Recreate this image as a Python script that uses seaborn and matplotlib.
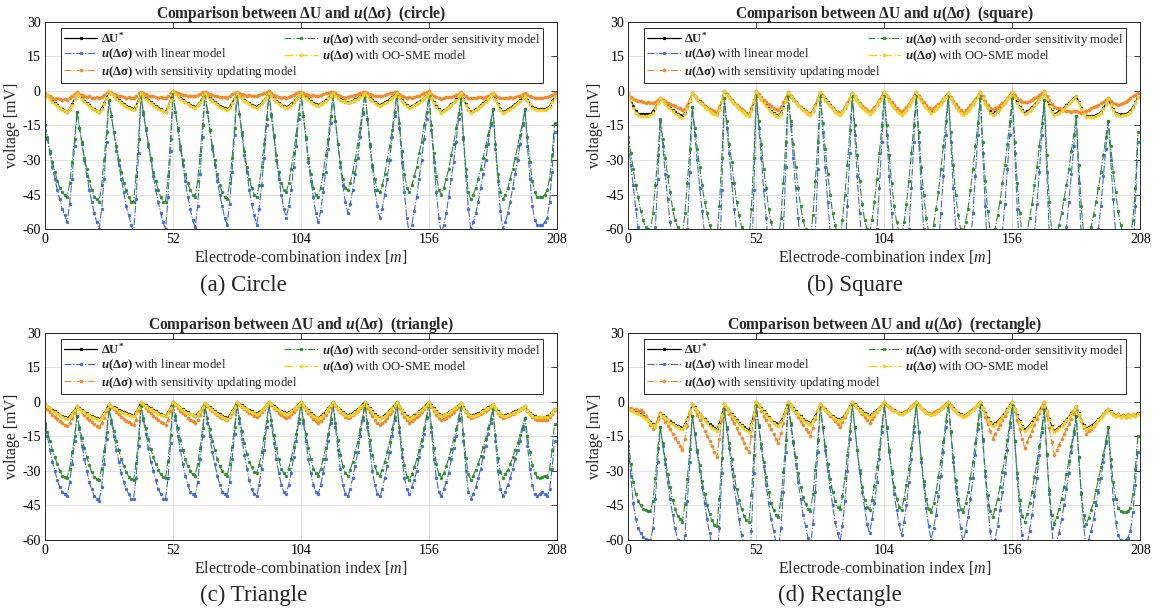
import numpy as np
import matplotlib
matplotlib.use("Agg")
import matplotlib.pyplot as plt
import seaborn as sns

# ---------------- data (mV), 208 electrode combinations per shape ----------------
X_TICKS = [0, 52, 104, 156, 208]
Y_TICKS = [-60, -45, -30, -15, 0, 15, 30]
SHAPES = ["circle", "square", "triangle", "rectangle"]
CAPTIONS = ["(a) Circle", "(b) Square", "(c) Triangle", "(d) Rectangle"]

# ---- (a) circle ----
A_DU = [
    -1, -2.1, -3.2, -4.4, -5.3, -6.3, -7.2, -7.9, -8.5, -9, -7.7, -5.8, -3.6,
    -1, -2.1, -3.2, -4.4, -5.3, -6.3, -7.2, -7.9, -8.5, -9, -7.6, -5.4, -2.9,
    0, -1, -2, -3, -3.9, -4.8, -5.6, -6.4, -7, -7.5, -8, -6.4, -3.9,
    -1, -2, -3, -4, -4.9, -5.8, -6.6, -7.4, -8, -8.5, -9, -6.9, -3.8,
    0, -1, -2, -2.9, -3.8, -4.6, -5.4, -6, -6.6, -7, -6, -4.6, -2.9,
    -1, -2, -3, -3.9, -4.8, -5.6, -6.4, -7, -7.6, -8, -6.9, -5.2, -3.2,
    -1, -2, -2.9, -3.8, -4.6, -5.4, -6, -6.6, -7, -6.3, -5.2, -3.9, -2.5,
    -1, -2.1, -3.2, -4.2, -5.1, -5.9, -6.5, -7, -6.4, -5.6, -4.6, -3.5, -2.3,
    -1, -1.9, -2.8, -3.7, -4.4, -5.1, -5.6, -6, -5.5, -4.9, -4, -3.1, -2.1,
    -1, -1.8, -2.7, -3.4, -4.1, -4.6, -5, -4.7, -4.2, -3.7, -3.1, -2.4, -1.7,
    -1, -2, -3.1, -4, -4.9, -5.5, -6, -5.6, -5, -4.4, -3.7, -2.8, -1.9,
    -1, -2.5, -3.9, -5.2, -6.3, -7, -6.6, -6, -5.4, -4.6, -3.8, -2.9, -2,
    -1, -3, -4.9, -6.6, -8, -9, -8.4, -7.7, -6.8, -5.8, -4.8, -3.6, -2.3,
    -1, -3.6, -5.8, -7.7, -9, -8.5, -7.9, -7.2, -6.3, -5.3, -4.4, -3.2, -2.1,
    -1, -3.6, -5.8, -7.7, -9, -8.6, -8, -7.4, -6.6, -5.8, -4.9, -4, -3,
    -2, -4, -5.5, -6.8, -7.6, -8, -8, -8, -7.8, -7.5, -6.5, -4.5, -2.5,
]
A_LIN = [
    -15, -21, -27, -33, -38, -43, -47, -51, -54, -57, -49, -38, -24,
    -9, -16, -23, -30, -37, -43, -48, -53, -57, -60, -51, -38, -22,
    -4, -11, -18, -26, -32, -38, -44, -50, -54, -58, -61, -47, -27,
    -2, -10, -17, -24, -30, -37, -43, -48, -53, -57, -60, -46, -26,
    -1, -9, -17, -25, -32, -39, -46, -51, -56, -59, -50, -36, -20,
    -1, -9, -17, -25, -32, -39, -45, -50, -55, -58, -49, -35, -19,
    -1, -10, -19, -28, -35, -43, -49, -54, -58, -51, -41, -29, -15,
    -1, -11, -20, -30, -38, -45, -51, -55, -50, -43, -33, -24, -12,
    -1, -11, -21, -31, -39, -46, -53, -57, -52, -44, -35, -25, -14,
    -2, -13, -23, -33, -41, -48, -53, -49, -43, -36, -29, -20, -10,
    -1, -12, -24, -33, -43, -50, -55, -51, -45, -38, -30, -20, -11,
    -1, -16, -31, -44, -55, -62, -58, -52, -46, -38, -30, -21, -12,
    -2, -17, -31, -44, -55, -62, -58, -53, -46, -38, -31, -22, -12,
    -3, -21, -37, -51, -60, -57, -53, -48, -42, -36, -30, -23, -15,
    -8, -25, -39, -52, -60, -57, -53, -48, -42, -36, -30, -23, -15,
    -8, -24, -38, -50, -56, -58, -58, -58, -57, -55, -48, -35, -18,
]
A_SEN = [
    -1.0, -1.8, -2.4, -3.0, -3.4, -3.1, -3.7, -4.0, -3.6, -3.9, -3.0, -2.1, -1.2,
    -0.5, -1.2, -1.9, -2.3, -2.6, -2.4, -2.9, -3.1, -2.8, -3.2, -2.5, -1.7, -0.8,
    0.0, -0.8, -1.3, -1.9, -2.2, -2.0, -2.6, -2.9, -2.7, -3.1, -3.0, -2.2, -1.1,
    -0.4, -1.0, -1.5, -2.1, -2.4, -2.2, -2.8, -3.0, -2.7, -3.1, -2.9, -2.0, -0.9,
    0.0, -0.6, -1.0, -1.3, -1.8, -1.6, -2.1, -2.3, -2.0, -2.2, -1.7, -1.2, -0.6,
    -0.3, -0.8, -1.3, -1.7, -2.2, -2.0, -2.6, -2.8, -2.5, -2.9, -2.2, -1.5, -0.8,
    -0.5, -1.0, -1.5, -1.8, -2.0, -1.7, -2.2, -2.4, -2.1, -1.6, -1.2, -0.9, -0.5,
    0.0, -0.9, -1.6, -2.1, -2.5, -2.9, -2.6, -3.0, -2.5, -2.0, -1.6, -1.0, -0.5,
    -0.4, -0.9, -1.4, -1.8, -2.2, -1.9, -2.3, -2.1, -1.8, -1.5, -1.1, -0.8, -0.4,
    -0.3, -1.0, -1.8, -2.4, -2.8, -3.0, -2.7, -2.4, -2.0, -1.7, -1.3, -0.9, -0.5,
    -0.4, -1.0, -1.5, -1.9, -2.2, -2.0, -2.3, -2.0, -1.7, -1.4, -1.1, -0.8, -0.5,
    -0.3, -1.2, -2.0, -2.6, -3.0, -2.8, -3.1, -2.7, -2.4, -2.0, -1.5, -1.1, -0.6,
    -0.2, -1.3, -2.2, -2.8, -3.1, -3.3, -3.0, -2.8, -2.5, -2.6, -2.2, -1.8, -1.2,
    -0.3, -1.5, -2.4, -2.9, -3.2, -2.9, -3.1, -2.8, -2.6, -2.9, -2.5, -2.1, -1.5,
    -0.8, -1.7, -2.5, -3.0, -3.2, -2.9, -3.1, -2.8, -3.0, -2.7, -2.4, -2.0, -1.4,
    -0.8, -1.6, -2.3, -2.8, -3.0, -3.2, -2.9, -3.1, -2.8, -2.5, -2.2, -1.6, -1.0,
]
A_SEC = [
    -15, -20, -26, -31, -35, -39, -42, -44, -45, -46, -40, -31, -21,
    -9, -16, -22, -29, -34, -39, -43, -46, -47, -48, -41, -30, -18,
    -4, -11, -18, -24, -30, -35, -40, -43, -46, -48, -48, -37, -21,
    -2, -9, -16, -23, -29, -35, -39, -43, -46, -48, -48, -37, -21,
    -1, -9, -16, -24, -30, -36, -40, -43, -45, -46, -39, -28, -15,
    -1, -9, -17, -24, -30, -36, -41, -44, -46, -47, -40, -29, -16,
    -1, -10, -18, -26, -33, -38, -42, -45, -46, -41, -33, -23, -12,
    -1, -10, -19, -28, -35, -40, -43, -44, -40, -34, -27, -19, -10,
    -1, -11, -20, -29, -36, -42, -45, -46, -42, -36, -28, -21, -11,
    -2, -13, -23, -31, -38, -42, -43, -40, -35, -30, -23, -16, -9,
    -1, -12, -23, -32, -38, -43, -44, -41, -36, -30, -24, -17, -9,
    -1, -14, -26, -36, -42, -44, -41, -37, -33, -27, -22, -15, -9,
    -2, -15, -27, -37, -43, -45, -42, -38, -34, -28, -23, -16, -10,
    -3, -20, -34, -44, -47, -45, -42, -38, -34, -29, -24, -19, -14,
    -8, -23, -36, -44, -47, -45, -42, -38, -34, -29, -24, -19, -14,
    -8, -20, -31, -39, -44, -46, -46, -46, -45, -43, -38, -28, -14,
]
A_OO = [
    -1, -2.3, -3.5, -4.7, -5.7, -6.7, -7.6, -8.3, -8.9, -9.3, -8, -6, -3.7,
    -1.2, -2.4, -3.5, -4.8, -5.7, -6.7, -7.6, -8.3, -8.9, -9.3, -7.9, -5.6, -3,
    0, -1.2, -2.3, -3.3, -4.3, -5.2, -6, -6.8, -7.4, -7.9, -8.3, -6.6, -4,
    -1, -2.2, -3.3, -4.4, -5.3, -6.2, -7, -7.8, -8.4, -8.9, -9.3, -7.1, -3.9,
    0, -1.2, -2.3, -3.3, -4.2, -5, -5.8, -6.4, -7, -7.4, -6.3, -4.8, -3,
    -1, -2.2, -3.3, -4.3, -5.2, -6, -6.8, -7.4, -8, -8.4, -7.2, -5.4, -3.3,
    -1, -2.2, -3.2, -4.2, -5, -5.8, -6.4, -7, -7.4, -6.6, -5.4, -4.1, -2.6,
    -1, -2.3, -3.5, -4.6, -5.5, -6.3, -6.9, -7.4, -6.8, -5.9, -4.8, -3.6, -2.4,
    -1, -2.1, -3.1, -4.1, -4.8, -5.5, -6, -6.4, -5.8, -5.1, -4.2, -3.2, -2.2,
    -1, -2, -3, -3.8, -4.5, -5, -5.4, -5, -4.5, -3.9, -3.3, -2.5, -1.8,
    -1, -2.2, -3.4, -4.4, -5.3, -5.9, -6.4, -6, -5.3, -4.6, -3.9, -2.9, -2,
    -1, -2.7, -4.2, -5.6, -6.7, -7.4, -7, -6.3, -5.7, -4.9, -4, -3, -2.1,
    -1, -3.2, -5.2, -7, -8.4, -9.4, -8.8, -8, -7.1, -6.1, -5, -3.8, -2.4,
    -1, -3.8, -6.1, -8.1, -9.4, -8.9, -8.3, -7.5, -6.6, -5.6, -4.6, -3.4, -2.2,
    -1, -3.8, -6.1, -8.1, -9.4, -9, -8.4, -7.8, -7, -6.1, -5.2, -4.2, -3.1,
    -2, -4.2, -5.8, -7.2, -8, -8.4, -8.4, -8.4, -8.2, -7.9, -6.8, -4.7, -2.6,
]

# ---- (b) square ----
B_DU = [
    -1, -3.5, -6.5, -8.7, -9.8, -10.1, -10, -10.2, -10.1, -10, -8.9, -7.2, -5.2,
    -3, -4.1, -5.2, -6.4, -7.3, -8.3, -9.2, -9.9, -10.5, -11, -9.4, -7, -4.2,
    -1, -2.2, -3.3, -4.4, -5.4, -6.4, -7.3, -8.2, -8.9, -9.5, -10, -7.7, -4.2,
    0, -1.4, -2.6, -4, -5.1, -6.3, -7.4, -8.4, -9.2, -9.9, -10.5, -8.2, -4.7,
    -0.5, -2, -3.4, -4.9, -6.2, -7.4, -8.6, -9.5, -10.4, -11, -9.4, -7, -4.2,
    -1, -2.3, -3.5, -4.8, -5.9, -6.9, -7.9, -8.7, -9.5, -10, -8.5, -6.2, -3.5,
    -0.5, -2, -3.5, -5, -6.2, -7.4, -8.5, -9.3, -10, -8.9, -7.3, -5.4, -3.3,
    -1, -2.5, -4.1, -5.5, -6.8, -7.9, -8.8, -9.5, -8.6, -7.4, -5.9, -4.3, -2.4,
    -0.5, -2.2, -3.9, -5.5, -7, -8.2, -9.2, -10, -9.1, -7.8, -6.2, -4.5, -2.5,
    -0.5, -2.3, -4.1, -5.6, -7, -8.2, -9, -8.4, -7.5, -6.4, -5.2, -3.9, -2.4,
    -1, -2.9, -4.8, -6.4, -7.9, -9.1, -10, -9.2, -8.2, -7, -5.5, -3.9, -2.2,
    -0.5, -2.9, -5.2, -7.2, -8.9, -10, -9.3, -8.5, -7.4, -6.2, -5, -3.5, -2,
    -0.5, -2.8, -4.9, -6.8, -8.4, -9.5, -8.9, -8.1, -7.1, -5.9, -4.7, -3.4, -2,
    -0.5, -3.5, -6.2, -8.5, -10, -9.5, -8.9, -8.2, -7.3, -6.3, -5.4, -4.2, -3.1,
    -2, -5, -7.5, -9.5, -10.8, -11, -11, -10.8, -10.5, -10, -9, -7.5, -5.5,
    -3.5, -6, -8, -9.5, -10, -10.2, -10, -9.8, -9.5, -8.5, -7, -5, -2.5,
]
B_LIN = [
    -22, -32, -41, -51, -59, -67, -74, -80, -86, -90, -78, -59, -38,
    -13, -24, -36, -47, -57, -67, -76, -84, -90, -95, -81, -60, -35,
    -7, -19, -30, -42, -52, -62, -71, -80, -87, -93, -98, -76, -43,
    -3, -16, -27, -40, -51, -61, -71, -81, -88, -94, -100, -78, -43,
    -2, -16, -29, -43, -55, -67, -78, -86, -94, -100, -84, -61, -33,
    -2, -15, -29, -42, -55, -66, -77, -86, -93, -100, -85, -61, -34,
    -2, -18, -33, -48, -61, -74, -84, -93, -100, -88, -71, -50, -27,
    -2, -19, -37, -53, -67, -80, -90, -98, -88, -76, -60, -42, -22,
    -2, -19, -37, -53, -67, -80, -90, -98, -88, -76, -60, -42, -22,
    -2, -22, -42, -60, -76, -88, -98, -90, -80, -67, -53, -37, -19,
    -2, -22, -42, -60, -76, -88, -98, -90, -80, -67, -53, -37, -19,
    -2, -27, -50, -71, -88, -100, -93, -84, -74, -61, -49, -34, -19,
    -3, -27, -51, -71, -88, -100, -93, -85, -74, -62, -49, -35, -19,
    -4, -35, -62, -85, -100, -95, -88, -80, -70, -59, -48, -36, -24,
    -11, -40, -64, -86, -100, -95, -88, -80, -70, -60, -50, -37, -25,
    -13, -30, -47, -62, -76, -87, -95, -98, -97, -90, -75, -50, -22,
]
B_SEN = [
    -1.0, -2.5, -3.6, -4.0, -4.5, -4.3, -4.8, -5.2, -5.0, -5.4, -5.1, -4.6, -4.0,
    -3.0, -3.8, -4.5, -5.1, -5.6, -6.1, -6.7, -7.2, -7.6, -8.1, -7.9, -6.0, -3.5,
    -1.0, -2.4, -3.6, -4.7, -5.6, -6.4, -7.2, -7.8, -8.4, -8.9, -9.1, -7.0, -3.8,
    0.0, -1.5, -2.8, -4.1, -5.2, -6.2, -7.1, -8.0, -8.8, -9.4, -10.0, -7.5, -3.9,
    0.0, -1.4, -2.6, -3.8, -4.8, -5.8, -6.7, -7.3, -7.8, -8.1, -6.8, -4.9, -2.6,
    -0.5, -2.0, -3.4, -4.8, -6.0, -7.1, -8.1, -8.9, -9.6, -10.0, -8.4, -6.1, -3.3,
    -0.8, -2.3, -3.8, -5.2, -6.4, -7.5, -8.5, -9.3, -9.9, -8.8, -7.1, -5.2, -3.1,
    -1.0, -2.4, -3.9, -5.2, -6.4, -7.5, -8.4, -9.0, -8.2, -7.1, -5.7, -4.1, -2.3,
    -0.5, -2.0, -3.5, -5.0, -6.3, -7.5, -8.4, -9.0, -8.1, -7.0, -5.5, -4.0, -2.2,
    -0.5, -2.1, -3.7, -5.0, -6.3, -7.3, -8.0, -7.4, -6.7, -5.8, -4.8, -3.6, -2.3,
    -1.0, -2.7, -4.4, -5.8, -7.1, -8.2, -9.0, -8.3, -7.4, -6.3, -5.0, -3.5, -2.0,
    -0.5, -2.4, -4.3, -5.9, -7.2, -8.0, -7.5, -6.9, -6.1, -5.2, -4.2, -3.0, -1.8,
    -0.5, -1.8, -3.0, -4.0, -4.7, -5.0, -4.7, -4.3, -3.8, -3.2, -2.5, -1.6, -0.8,
    0.0, -2.0, -3.9, -5.5, -6.8, -7.3, -7.6, -7.9, -8.2, -8.5, -8.8, -9.0, -8.6,
    -8.5, -9.2, -9.6, -9.3, -8.8, -8.2, -7.6, -7.0, -6.4, -5.9, -5.4, -4.6, -3.8,
    -3.0, -4.2, -5.3, -5.8, -6.0, -5.7, -5.2, -4.6, -3.9, -3.1, -2.4, -1.6, -0.8,
]
B_SEC = [
    -20, -27, -34, -41, -46, -52, -56, -59, -60, -61, -53, -41, -28,
    -12, -21, -29, -37, -44, -51, -56, -59, -61, -62, -53, -40, -25,
    -7, -16, -25, -33, -41, -48, -53, -58, -61, -63, -64, -50, -29,
    -3, -13, -23, -31, -40, -48, -54, -59, -63, -65, -66, -51, -29,
    -2, -13, -23, -34, -42, -51, -57, -61, -64, -65, -55, -40, -22,
    -2, -13, -23, -33, -42, -50, -56, -60, -63, -64, -54, -39, -22,
    -2, -14, -25, -36, -45, -53, -58, -62, -63, -56, -45, -32, -17,
    -2, -15, -28, -39, -49, -56, -60, -62, -56, -48, -38, -27, -15,
    -2, -15, -28, -40, -50, -57, -61, -63, -57, -49, -39, -27, -15,
    -2, -18, -33, -45, -55, -61, -63, -58, -51, -44, -34, -24, -13,
    -2, -18, -32, -45, -54, -60, -62, -57, -51, -43, -34, -24, -14,
    -3, -22, -39, -52, -61, -64, -60, -54, -48, -40, -32, -23, -13,
    -3, -22, -40, -53, -62, -65, -61, -55, -49, -41, -33, -24, -14,
    -4, -28, -48, -61, -66, -63, -58, -53, -47, -41, -34, -26, -19,
    -11, -32, -50, -62, -66, -63, -59, -54, -48, -42, -35, -28, -20,
    -13, -24, -35, -44, -52, -58, -62, -64, -65, -63, -56, -42, -18,
]
B_OO = [
    -1, -4, -7.2, -9.5, -10.5, -10.8, -10.7, -10.9, -10.8, -10.6, -9.4, -7.6, -5.4,
    -3.2, -4.4, -5.6, -6.9, -7.8, -8.8, -9.8, -10.5, -11.1, -11.6, -9.9, -7.4, -4.4,
    -1, -2.4, -3.6, -4.8, -5.8, -6.9, -7.8, -8.7, -9.5, -10.1, -10.6, -8.1, -4.4,
    0, -1.6, -2.9, -4.3, -5.5, -6.7, -7.9, -8.9, -9.7, -10.4, -11, -8.6, -4.9,
    -0.5, -2.2, -3.7, -5.2, -6.6, -7.9, -9.1, -10, -10.9, -11.5, -9.8, -7.3, -4.4,
    -1, -2.5, -3.8, -5.1, -6.3, -7.3, -8.3, -9.2, -10, -10.5, -8.9, -6.5, -3.7,
    -0.5, -2.2, -3.8, -5.3, -6.6, -7.8, -9, -9.8, -10.5, -9.3, -7.6, -5.6, -3.4,
    -1, -2.7, -4.4, -5.9, -7.2, -8.4, -9.3, -10, -9, -7.7, -6.2, -4.5, -2.5,
    -0.5, -2.4, -4.2, -5.9, -7.4, -8.7, -9.7, -10.5, -9.5, -8.2, -6.5, -4.7, -2.6,
    -0.5, -2.5, -4.4, -6, -7.4, -8.7, -9.5, -8.8, -7.9, -6.7, -5.5, -4.1, -2.5,
    -1, -3.1, -5.1, -6.8, -8.4, -9.6, -10.5, -9.7, -8.6, -7.3, -5.8, -4.1, -2.3,
    -0.5, -3.1, -5.5, -7.6, -9.4, -10.5, -9.8, -8.9, -7.8, -6.5, -5.2, -3.7, -2.1,
    -0.5, -3, -5.2, -7.2, -8.9, -10, -9.4, -8.5, -7.5, -6.2, -5, -3.6, -2.1,
    -0.5, -3.7, -6.6, -9, -10.5, -10, -9.4, -8.6, -7.7, -6.6, -5.7, -4.4, -3.3,
    -2.2, -5.3, -7.9, -10, -11.3, -11.5, -11.5, -11.3, -11, -10.5, -9.4, -7.8, -5.7,
    -3.6, -6.3, -8.4, -10, -10.5, -10.7, -10.5, -10.3, -10, -9, -7.4, -5.3, -2.6,
]

# ---- (c) triangle ----
C_DU = [
    -1, -1.8, -2.7, -3.5, -4.2, -5, -5.6, -6.2, -6.6, -7, -6.2, -5, -3.6,
    -2, -2.8, -3.5, -4.3, -5, -5.6, -6.2, -6.7, -7.2, -7.5, -6.5, -4.9, -3.1,
    -1, -1.7, -2.3, -2.9, -3.5, -4, -4.5, -5, -5.4, -5.7, -6, -4.6, -2.5,
    0, -0.8, -1.5, -2.3, -2.9, -3.6, -4.2, -4.8, -5.3, -5.6, -6, -4.6, -2.5,
    0, -0.8, -1.7, -2.5, -3.2, -4, -4.6, -5.2, -5.6, -6, -5.1, -3.8, -2.3,
    -0.5, -1.4, -2.3, -3.2, -4, -4.8, -5.5, -6.1, -6.6, -7, -5.9, -4.2, -2.2,
    0, -0.8, -1.6, -2.4, -3, -3.7, -4.2, -4.7, -5, -4.4, -3.5, -2.5, -1.3,
    0, -0.9, -1.8, -2.7, -3.4, -4.1, -4.6, -5, -4.5, -3.9, -3, -2.1, -1.1,
    0, -1.3, -2.5, -3.7, -4.8, -5.7, -6.4, -7, -6.3, -5.4, -4.2, -2.9, -1.5,
    0, -1.3, -2.5, -3.6, -4.6, -5.4, -6, -5.5, -4.9, -4.1, -3.2, -2.2, -1.1,
    0, -1.5, -2.9, -4.2, -5.4, -6.3, -7, -6.4, -5.7, -4.8, -3.7, -2.5, -1.3,
    0, -1.8, -3.4, -4.9, -6.2, -7, -6.5, -5.9, -5.1, -4.2, -3.3, -2.2, -1.1,
    0, -1.5, -2.9, -4.2, -5.3, -6, -5.6, -5.1, -4.5, -3.8, -3.1, -2.3, -1.4,
    -0.5, -2.3, -3.8, -5.1, -6, -5.7, -5.3, -4.9, -4.3, -3.7, -3.1, -2.4, -1.7,
    -1, -2.6, -4, -5.2, -6, -5.8, -5.4, -5.1, -4.6, -4.2, -3.7, -3.1, -2.6,
    -2, -3.5, -4.8, -5.7, -6.2, -6.5, -6.5, -6.4, -6.5, -6.3, -5.6, -4.4, -3,
]
C_LIN = [
    -10, -15, -21, -26, -30, -34, -37, -39, -40, -41, -35, -27, -17,
    -6, -12, -19, -25, -30, -35, -38, -41, -42, -43, -37, -27, -16,
    -3, -9, -15, -21, -26, -31, -35, -38, -40, -42, -42, -33, -19,
    -2, -8, -14, -20, -26, -30, -34, -38, -40, -42, -42, -33, -18,
    -1, -8, -15, -21, -27, -32, -36, -39, -40, -41, -35, -25, -15,
    -2, -9, -15, -22, -27, -32, -36, -39, -40, -41, -35, -25, -14,
    -1, -9, -16, -23, -29, -34, -38, -40, -41, -36, -29, -21, -11,
    -1, -10, -18, -25, -31, -36, -39, -40, -36, -31, -24, -17, -9,
    -1, -9, -17, -25, -31, -36, -39, -40, -36, -31, -25, -17, -9,
    -1, -11, -21, -29, -36, -40, -41, -38, -33, -28, -22, -15, -8,
    -1, -11, -21, -30, -36, -40, -41, -38, -33, -28, -22, -15, -8,
    -1, -13, -24, -33, -38, -40, -37, -34, -30, -24, -19, -14, -7,
    -1, -13, -25, -33, -39, -41, -38, -35, -31, -25, -20, -15, -8,
    -2, -17, -30, -39, -42, -40, -37, -33, -29, -24, -19, -14, -9,
    -3, -17, -30, -38, -41, -39, -36, -33, -29, -25, -21, -17, -12,
    -7, -19, -29, -36, -40, -41, -40, -39, -40, -41, -38, -29, -17,
]
C_SEN = [
    -2, -3.2, -4.4, -5.6, -6.6, -7.6, -8.5, -9.3, -10, -10.5, -9.1, -7.1, -4.7,
    -2, -3.3, -4.5, -5.8, -6.9, -7.9, -8.9, -9.7, -10.5, -11, -9.4, -7, -4.2,
    -1, -2.2, -3.3, -4.4, -5.4, -6.4, -7.3, -8.2, -8.9, -9.5, -10, -7.7, -4.2,
    0, -1.3, -2.5, -3.8, -4.9, -6, -7, -8, -8.8, -9.4, -10, -7.7, -4.2,
    0, -1.3, -2.5, -3.8, -4.9, -5.9, -6.9, -7.7, -8.5, -9, -7.7, -5.8, -3.6,
    -1, -2, -3, -3.9, -4.8, -5.6, -6.4, -7, -7.6, -8, -6.7, -4.8, -2.6,
    0, -1, -2.1, -3.1, -3.9, -4.7, -5.5, -6, -6.5, -5.7, -4.6, -3.2, -1.6,
    0, -1.3, -2.5, -3.7, -4.8, -5.7, -6.4, -7, -6.4, -5.5, -4.4, -3.2, -1.9,
    -0.5, -2, -3.6, -5, -6.3, -7.4, -8.3, -9, -8.2, -7, -5.6, -4.1, -2.3,
    -0.5, -1.9, -3.2, -4.4, -5.5, -6.4, -7, -6.5, -5.8, -4.9, -3.9, -2.8, -1.7,
    -0.5, -2.5, -4.5, -6.2, -7.8, -9.1, -10, -9.2, -8.2, -7, -5.5, -3.9, -2.2,
    -0.5, -2.6, -4.7, -6.5, -8, -9, -8.4, -7.6, -6.7, -5.6, -4.5, -3.2, -1.9,
    -0.5, -2.4, -4.2, -5.8, -7.1, -8, -7.5, -6.9, -6.1, -5.2, -4.3, -3.2, -2.1,
    -1, -2.9, -4.6, -6, -7, -6.7, -6.2, -5.7, -5.1, -4.5, -3.8, -3, -2.3,
    -1.5, -3.3, -4.8, -6.1, -7, -6.7, -6.3, -5.9, -5.3, -4.7, -4.1, -3.4, -2.7,
    -2, -3.8, -5.3, -6.5, -7.3, -7.8, -8, -7.9, -8, -7.7, -6.8, -5.2, -3.5,
]
C_SEC = [
    -9, -13, -17, -21, -24, -27, -30, -32, -32.5, -33, -29, -22, -15,
    -6, -11, -15.5, -20, -24, -27.5, -30.5, -32.5, -33.5, -34, -29, -21.5, -13,
    -3, -8, -12.5, -17, -21, -25, -28, -30.5, -32.5, -33.5, -34, -26.5, -15.5,
    -2, -7, -11.5, -16, -20.5, -24, -27, -29.5, -31.5, -32.5, -33, -25.5, -14.5,
    -1, -6, -11.5, -16.5, -21, -25, -28, -30, -31.5, -32, -27, -20, -11.5,
    -2, -7, -12, -17, -21, -25, -28, -30, -31.5, -32, -27, -19.5, -11,
    -1, -7, -12.5, -18, -22.5, -26, -28.5, -30.5, -31, -27.5, -22, -15.5, -8.5,
    -1, -8, -14.5, -20, -25, -29, -31, -32, -29, -25, -19.5, -14, -7.5,
    -1, -8, -14, -20, -25, -29, -31, -32, -29, -25, -20, -14, -7.5,
    -1, -9, -16.5, -23, -28, -31, -32, -29.5, -26, -22, -17.5, -12, -6.5,
    -1, -9, -16.5, -23, -28, -31, -32, -29.5, -26, -22, -17.5, -12, -6.5,
    -1, -11, -20.5, -27.5, -32.5, -34, -31.5, -28.5, -25, -21, -16.5, -11.5, -6.5,
    -1, -11, -20, -27, -31.5, -33, -31, -28, -24.5, -20.5, -16.5, -12, -7,
    -2, -14, -24.5, -31.5, -34, -32, -29.5, -27, -23.5, -19.5, -16, -11.5, -7.5,
    -3, -14.5, -24.5, -30.5, -33, -31.5, -29.5, -27, -24, -21, -18, -14.5, -10.5,
    -7, -15, -22, -27.5, -31, -32.5, -33, -32.5, -32, -32.5, -29, -21, -9.5,
]
C_OO = [
    -1, -2, -2.9, -3.8, -4.5, -5.3, -5.9, -6.5, -6.9, -7.3, -6.5, -5.2, -3.7,
    -2, -3, -3.8, -4.6, -5.3, -5.9, -6.5, -7, -7.5, -7.8, -6.8, -5.1, -3.2,
    -1, -1.9, -2.6, -3.2, -3.8, -4.3, -4.8, -5.3, -5.7, -6, -6.3, -4.8, -2.6,
    0, -1, -1.8, -2.6, -3.2, -3.9, -4.5, -5.1, -5.6, -5.9, -6.3, -4.8, -2.6,
    0, -1, -2, -2.8, -3.5, -4.3, -4.9, -5.5, -5.9, -6.3, -5.4, -4, -2.4,
    -0.5, -1.6, -2.6, -3.5, -4.3, -5.1, -5.8, -6.4, -6.9, -7.3, -6.2, -4.4, -2.3,
    0, -1, -1.9, -2.7, -3.3, -4, -4.5, -5, -5.3, -4.7, -3.7, -2.6, -1.4,
    0, -1.1, -2.1, -3, -3.7, -4.4, -4.9, -5.3, -4.8, -4.1, -3.2, -2.2, -1.2,
    0, -1.5, -2.8, -4, -5.1, -6, -6.7, -7.3, -6.6, -5.7, -4.4, -3, -1.6,
    0, -1.5, -2.8, -3.9, -4.9, -5.7, -6.3, -5.8, -5.2, -4.3, -3.4, -2.3, -1.2,
    0, -1.7, -3.2, -4.5, -5.7, -6.6, -7.3, -6.7, -6, -5, -3.9, -2.6, -1.4,
    0, -2, -3.7, -5.2, -6.5, -7.3, -6.8, -6.2, -5.3, -4.4, -3.5, -2.3, -1.2,
    0, -1.7, -3.2, -4.5, -5.6, -6.3, -5.9, -5.4, -4.7, -4, -3.3, -2.4, -1.5,
    -0.5, -2.5, -4.1, -5.4, -6.3, -6, -5.6, -5.1, -4.5, -3.9, -3.3, -2.5, -1.8,
    -1, -2.8, -4.3, -5.5, -6.3, -6.1, -5.7, -5.3, -4.8, -4.4, -3.9, -3.2, -2.7,
    -2, -3.7, -5.1, -6, -6.5, -6.8, -6.8, -6.7, -6.8, -6.6, -5.9, -4.6, -3.1,
]

# ---- (d) rectangle ----
D_DU = [
    -3, -3.5, -4, -4.4, -4.9, -5.5, -6.2, -7, -7.9, -8.8, -9.6, -10.3, -8,
    -5, -5.9, -6.8, -7.7, -8.5, -9.3, -10, -10.6, -11.1, -11.5, -9.8, -7.3, -4.4,
    -1, -2.4, -3.8, -5.2, -6.4, -7.6, -8.7, -9.8, -10.7, -11.3, -12, -9.5, -5.6,
    -1, -2.5, -3.9, -5.4, -6.6, -7.9, -9.1, -10.2, -11.1, -11.8, -12.5, -9.6, -5.3,
    0, -1.4, -2.8, -4.2, -5.4, -6.6, -7.7, -8.6, -9.4, -10, -8.4, -6, -3.2,
    0, -1.3, -2.7, -4, -5.1, -6.3, -7.3, -8.2, -8.9, -9.5, -8.1, -6.1, -3.7,
    -1, -2.1, -3.2, -4.3, -5.2, -6.1, -6.9, -7.5, -8, -7, -5.6, -3.9, -2,
    0, -1.1, -2.2, -3.2, -4.1, -4.9, -5.5, -6, -5.4, -4.6, -3.6, -2.5, -1.3,
    0, -1.2, -2.3, -3, -3.6, -4.3, -4.7, -5, -4.6, -4.1, -3.2, -2.3, -1.2,
    0, -1.4, -2.6, -3.6, -4.4, -5.1, -5.5, -5.1, -4.6, -3.9, -3.1, -2.1, -1.1,
    0, -1.5, -2.8, -3.9, -4.8, -5.5, -6, -5.6, -5, -4.2, -3.3, -2.3, -1.2,
    0, -2.5, -4.9, -7, -8.8, -10, -9.3, -8.4, -7.3, -6, -4.7, -3.2, -1.6,
    0, -3, -5.9, -8.4, -10.6, -12, -11.2, -10.1, -8.8, -7.2, -5.6, -3.8, -1.9,
    0, -4, -7.5, -10.5, -12.5, -11.9, -11, -10.1, -8.9, -7.7, -6.4, -5, -3.5,
    -2, -5, -7.7, -10, -11.5, -11, -10.3, -9.5, -8.6, -7.6, -6.6, -5.4, -4.2,
    -3, -4.2, -5.3, -6, -5.5, -6.3, -5.8, -6.5, -5.6, -6.1, -5.2, -5.8, -5,
]
D_LIN = [
    -19, -32, -44, -51, -55, -57, -58.5, -59.5, -60, -60, -55, -42, -26,
    -11, -19, -27, -35, -42, -49, -55, -60, -65, -68, -58, -43, -26,
    -6, -14, -22, -30, -37, -44, -51, -57, -62, -66, -70, -55, -31,
    -3, -12, -20, -29, -37, -44, -51, -58, -64, -68, -72, -56, -31,
    -2, -11, -20, -28, -36, -44, -51, -56, -61, -65, -55, -39, -22,
    -1, -10, -18, -27, -35, -42, -49, -54, -59, -63, -53, -39, -22,
    -2, -11, -21, -30, -37, -45, -52, -57, -61, -54, -43, -30, -16,
    -1, -11, -21, -31, -39, -46, -53, -57, -51, -44, -35, -25, -13,
    -1, -11, -22, -31, -40, -47, -53, -58, -52, -45, -35, -25, -13,
    -1, -13, -26, -36, -46, -54, -60, -55, -49, -41, -32, -22, -11,
    0, -13, -26, -37, -47, -55, -61, -56, -50, -42, -33, -23, -12,
    -1, -17, -32, -45, -56, -64, -60, -54, -47, -39, -31, -21, -11,
    -1, -17, -33, -47, -58, -66, -62, -56, -49, -41, -33, -23, -13,
    -3, -23, -40, -55, -65, -61, -57, -51, -45, -38, -31, -22, -14,
    -6, -24, -40, -54, -63, -60, -56, -51, -45, -39, -33, -26, -18,
    -11, -28, -42, -52, -58, -60, -60.5, -60, -59, -56, -48, -36, -22,
]
D_SEN = [
    -3, -2.8, -3.5, -3.2, -3.9, -3.6, -4.5, -6, -8, -10, -12, -10, -7,
    -5, -6.8, -8.6, -10.3, -12, -13.8, -15.6, -17.4, -19.2, -21, -16, -10.5, -5,
    -1, -3.3, -5.6, -7.9, -10.2, -12.5, -14.8, -17.1, -19.4, -21.7, -24, -16, -8,
    -1, -3.1, -5.2, -7.3, -9.4, -11.5, -13.6, -15.7, -17.8, -19.9, -22, -14.7, -7.3,
    0, -2, -4, -6, -8, -10, -12, -14, -16, -18, -13.5, -9, -4.5,
    0, -1.7, -3.3, -5, -6.7, -8.3, -10, -11.7, -13.3, -15, -11.2, -7.5, -3.7,
    -1, -2.2, -3.5, -4.7, -6, -7.2, -8.5, -9.7, -11, -8.8, -6.6, -4.4, -2.2,
    0, -1.3, -2.6, -3.9, -5.1, -6.4, -7.7, -9, -7.5, -6, -4.5, -3, -1.5,
    0, -1.5, -2.4, -3.4, -3.9, -4.5, -4.8, -5.2, -4.6, -3.8, -3, -2, -1,
    0, -1.4, -2.5, -3.6, -4.3, -4.8, -5.1, -4.6, -4, -3.4, -2.7, -1.8, -0.9,
    0, -1.6, -3, -4.2, -5.1, -5.7, -6.1, -5.6, -5, -4.2, -3.3, -2.2, -1.1,
    0, -3.2, -6.4, -9.6, -12.8, -16, -14, -12, -10, -8, -6, -4, -2,
    0, -4, -8, -12, -16, -20, -17.5, -15, -12.5, -10, -7.5, -5, -2.5,
    0, -5.8, -11.5, -17.3, -23, -20.8, -18.6, -16.3, -14.1, -11.9, -9.7, -7.4, -5.2,
    -3, -5.8, -8.5, -11.3, -14, -12.8, -11.6, -10.3, -9.1, -7.9, -6.7, -5.4, -4.2,
    -3, -4.5, -5.5, -6.2, -5.4, -6.5, -5.8, -6.3, -5.2, -6, -5.4, -6.1, -5.5,
]
D_SEC = [
    -17, -27, -35, -40, -43, -45, -46.5, -47, -47.5, -47.5, -43, -33, -20,
    -11, -18, -25, -31.5, -37, -42.5, -46.5, -49.5, -51, -52, -44.5, -33.5, -20.5,
    -6, -13.5, -21, -27.5, -34.5, -40, -45, -48.5, -51.5, -53.5, -54, -42, -24.5,
    -3, -11, -18, -25, -32, -38, -42.5, -46.5, -49.5, -51.5, -52, -40.5, -23,
    -2, -10, -18.5, -26, -32.5, -39, -44, -47, -49, -50, -42, -30.5, -16.5,
    -1, -9, -17, -24, -31, -37, -41.5, -44.5, -46.5, -47.5, -40, -29.5, -16.5,
    -2, -11, -19, -27, -33.5, -39, -43, -45.5, -46.5, -41, -33, -23, -12.5,
    -1, -11, -21, -29.5, -37, -42.5, -45.5, -47, -42.5, -36.5, -28.5, -20.5, -10.5,
    -1, -11.5, -21, -30, -37, -42, -45.5, -47, -42, -36, -29, -20, -10.5,
    -1, -13, -24.5, -34.5, -42, -46.5, -48, -44, -39, -32.5, -25.5, -17.5, -8.5,
    0, -12.5, -24, -34, -42, -46.5, -48, -44, -39, -33, -26, -18, -9.5,
    -1, -16, -30, -40.5, -47.5, -50, -46.5, -42, -37, -30.5, -24, -16.5, -9,
    -1, -17, -31, -42.5, -49.5, -52, -48.5, -44, -39, -32.5, -26.5, -19, -11.5,
    -3.5, -22.5, -38.5, -49, -53, -50, -46.5, -42, -37, -31.5, -25.5, -19, -12.5,
    -6, -24, -39.5, -49, -53, -50.5, -47, -43.5, -38.5, -33.5, -28.5, -23, -17,
    -11, -25, -35, -42, -46, -47.5, -48, -48, -47.5, -46, -40, -29, -15,
]
D_OO = [
    -3, -3.7, -4.3, -4.8, -5.3, -5.9, -6.7, -7.5, -8.4, -9.3, -10.2, -10.8, -8.4,
    -5.2, -6.2, -7.2, -8.1, -9, -9.8, -10.5, -11.1, -11.6, -12, -10.2, -7.6, -4.6,
    -1, -2.6, -4.1, -5.5, -6.8, -8, -9.2, -10.3, -11.2, -11.8, -12.5, -9.9, -5.8,
    -1, -2.7, -4.2, -5.7, -7, -8.3, -9.6, -10.7, -11.6, -12.3, -13, -10, -5.5,
    0, -1.6, -3.1, -4.5, -5.8, -7, -8.1, -9.1, -9.9, -10.5, -8.8, -6.3, -3.4,
    0, -1.5, -3, -4.3, -5.5, -6.7, -7.7, -8.6, -9.4, -10, -8.5, -6.4, -3.9,
    -1, -2.3, -3.5, -4.6, -5.5, -6.4, -7.3, -7.9, -8.4, -7.4, -5.9, -4.1, -2.1,
    0, -1.3, -2.5, -3.5, -4.4, -5.3, -5.9, -6.4, -5.7, -4.9, -3.8, -2.6, -1.4,
    0, -1.4, -2.6, -3.3, -3.9, -4.6, -5.1, -5.4, -4.9, -4.4, -3.4, -2.4, -1.3,
    0, -1.6, -2.9, -3.9, -4.8, -5.5, -5.9, -5.5, -4.9, -4.2, -3.3, -2.2, -1.2,
    0, -1.7, -3.1, -4.2, -5.2, -5.9, -6.4, -6, -5.3, -4.5, -3.5, -2.4, -1.3,
    0, -2.7, -5.2, -7.4, -9.3, -10.5, -9.8, -8.8, -7.7, -6.3, -4.9, -3.4, -1.7,
    0, -3.2, -6.2, -8.8, -11.1, -12.5, -11.7, -10.6, -9.2, -7.5, -5.8, -4, -2,
    0, -4.2, -7.9, -11, -13, -12.4, -11.5, -10.5, -9.3, -8, -6.7, -5.2, -3.6,
    -2, -5.3, -8.1, -10.5, -12, -11.5, -10.8, -9.9, -9, -8, -6.9, -5.6, -4.4,
    -3, -4.4, -5.6, -6.3, -5.8, -6.6, -6.1, -6.8, -5.9, -6.4, -5.5, -6.1, -5.2,
]

# ---------------- styling ----------------
sns.set_theme(style="white")
plt.rcParams["font.family"] = ["Liberation Serif", "DejaVu Serif"]
plt.rcParams["axes.unicode_minus"] = False
plt.rcParams["mathtext.fontset"] = "custom"
plt.rcParams["mathtext.rm"] = "Liberation Serif"
plt.rcParams["mathtext.it"] = "Liberation Serif:italic"
plt.rcParams["mathtext.bf"] = "Liberation Serif:bold"
try:
    plt.rcParams["mathtext.bfit"] = "Liberation Serif:italic:bold"
    BU = r"\mathbfit{u}"
except KeyError:
    BU = r"\mathbf{u}"

COL_DU = "#000000"
COL_LIN = "#3F67D8"
COL_SEN = "#F28A2C"
COL_SEC = "#2B8C2B"
COL_OO = "#F2D22A"

LABELS = [
    r"$\mathbf{ΔU^{*}}$",
    "$" + BU + r"\mathbf{(Δσ)}$ with linear model",
    "$" + BU + r"\mathbf{(Δσ)}$ with sensitivity updating model",
    "$" + BU + r"\mathbf{(Δσ)}$ with second-order sensitivity model",
    "$" + BU + r"\mathbf{(Δσ)}$ with OO-SME model",
]

PANEL_DATA = [
    (A_DU, A_LIN, A_SEN, A_SEC, A_OO),
    (B_DU, B_LIN, B_SEN, B_SEC, B_OO),
    (C_DU, C_LIN, C_SEN, C_SEC, C_OO),
    (D_DU, D_LIN, D_SEN, D_SEC, D_OO),
]

W, H = 1153, 610
fig = plt.figure(figsize=(W / 100, H / 100), dpi=100)

# axes rectangles in pixels: left, top, right, bottom
RECTS = [
    (45, 21.7, 557, 229.3),
    (628.3, 21.7, 1140.3, 229.3),
    (45, 332.7, 557, 540),
    (628.3, 332.7, 1140.3, 540),
]
CAP_POS = [(243, 285), (855, 285), (254, 595), (840, 595)]

STYLES = [
    (COL_DU, "-", 0.9, 4.0),
    (COL_LIN, "-.", 0.8, 4.0),
    (COL_SEN, "-.", 0.8, 4.5),
    (COL_SEC, "-.", 0.8, 4.0),
    (COL_OO, "-.", 1.0, 4.5),
]

for k, (shape, cap, series) in enumerate(zip(SHAPES, CAPTIONS, PANEL_DATA)):
    l, t, r, b = RECTS[k]
    ax = fig.add_axes([l / W, 1 - b / H, (r - l) / W, (b - t) / H])
    handles = []
    for vals, (c, ls, lw, ms), lab in zip(series, STYLES, LABELS):
        m = np.arange(len(vals))
        sns.lineplot(x=m, y=np.asarray(vals, dtype=float), ax=ax, color=c,
                     linestyle=ls, linewidth=lw, marker=".", markersize=ms,
                     markeredgecolor=c, markerfacecolor=c, markeredgewidth=0.4,
                     errorbar=None, legend=False)
        line = ax.lines[-1]
        line.set_label(lab)
        handles.append(line)

    ax.set_xlim(0, 208)
    ax.set_ylim(-60, 30)
    ax.set_xticks(X_TICKS)
    ax.set_yticks(Y_TICKS)
    ax.tick_params(direction="in", length=4, width=0.6, top=True, right=True,
                   labelsize=10, colors="#262626", labelcolor="black", pad=3)
    ax.grid(True, color="#E3E3E3", linewidth=0.7)
    ax.set_axisbelow(True)
    for sp in ax.spines.values():
        sp.set_color("#262626")
        sp.set_linewidth(0.7)

    ax.set_title("Comparison between ΔU and $" + BU + "$(Δσ)  (" + shape + ")",
                 fontsize=11.2, fontweight="bold", pad=3)
    ax.set_xlabel(r"Electrode-combination index [$\mathit{m}$]", fontsize=11.5,
                  labelpad=1)
    ax.set_ylabel("voltage [mV]", fontsize=11.5, labelpad=2)

    leg = ax.legend(handles=handles, loc="upper left", ncol=2, mode="expand",
                    bbox_to_anchor=(0.031, 0.72, 0.942, 0.25), borderaxespad=0,
                    fontsize=9.2, frameon=True, fancybox=False, framealpha=1,
                    handlelength=2.6, handletextpad=0.3, labelspacing=0.1,
                    borderpad=0.25, columnspacing=1.0, numpoints=1)
    leg.get_frame().set_edgecolor("#262626")
    leg.get_frame().set_linewidth(0.7)

    cx, cy = CAP_POS[k]
    fig.text(cx / W, 1 - cy / H, cap, ha="center", va="center", fontsize=16.5)

fig.savefig("out.png", dpi=100)
